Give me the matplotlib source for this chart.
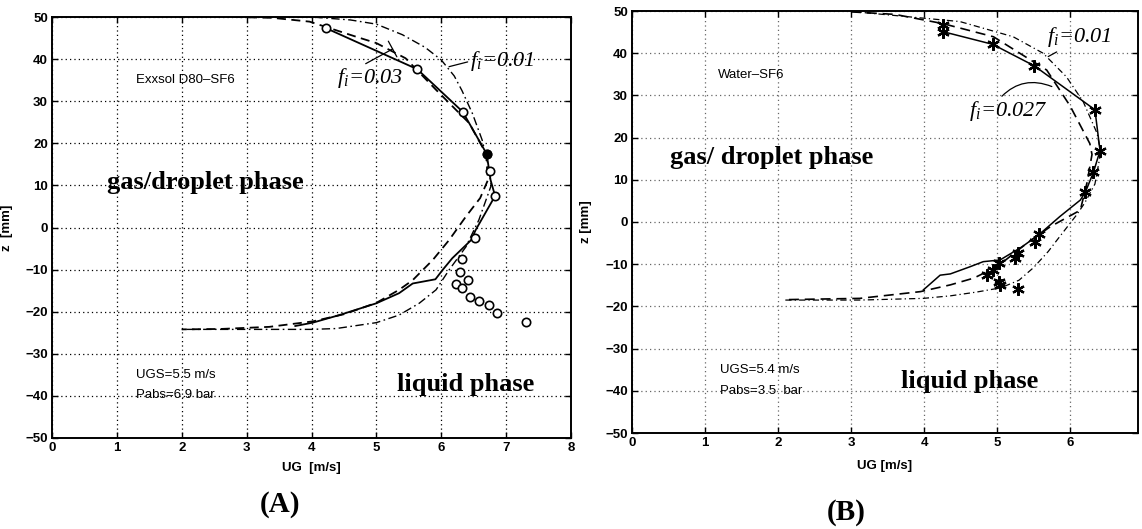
import matplotlib.pyplot as plt

plt.rcParams['mathtext.fontset'] = 'custom'
plt.rcParams['mathtext.it'] = 'Liberation Serif:italic'
plt.rcParams['mathtext.rm'] = 'Liberation Serif:italic'

# ---- Panel A: Exxsol D80-SF6 ----
a_circ_ug = [4.23, 5.63, 6.33, 6.70, 6.75, 6.83, 6.52, 6.32, 6.29, 6.42, 6.22, 6.32, 6.45, 6.58, 6.74, 6.86, 7.31]
a_circ_z = [47.3, 37.6, 27.5, 17.5, 13.5, 7.5, -2.6, -7.6, -10.5, -12.5, -13.5, -14.4, -16.4, -17.4, -18.4, -20.4, -22.4]

a_meas_ug = [4.23, 5.63, 6.33, 6.70, 6.76, 6.83, 6.53, 6.46, 6.17, 6.02, 5.91, 5.56, 5.35, 5.0, 4.43, 4.02, 3.75]
a_meas_z = [47.3, 37.6, 27.5, 17.5, 11.3, 7.5, -0.6, -3.0, -7.3, -10.1, -12.3, -13.3, -15.6, -18.0, -20.8, -22.6, -23.4]

a_f003_ug = [2.8, 3.4, 3.97, 4.69, 5.0, 5.45, 5.92, 6.43, 6.69, 6.72, 6.60, 6.38, 6.12, 5.87, 5.56, 5.35, 5.0, 4.5, 4.02, 3.35, 2.6, 2.0]
a_f003_z = [50.0, 49.8, 48.9, 45.3, 43.8, 40.2, 32.7, 24.8, 17.6, 11.3, 7.0, 2.6, -3.0, -7.7, -12.5, -14.8, -17.9, -20.6, -22.3, -23.6, -24.1, -24.2]

a_f001_ug = [3.0, 4.0, 4.6, 5.0, 5.4, 5.75, 6.0, 6.2, 6.32, 6.48, 6.63, 6.72, 6.77, 6.58, 6.38, 6.12, 5.92, 5.66, 5.35, 5.0, 4.38, 4.0, 2.0]
a_f001_z = [50.0, 50.0, 49.3, 48.3, 45.8, 42.8, 39.8, 36.0, 32.5, 27.1, 20.8, 15.0, 10.0, 1.8, -4.6, -10.1, -14.8, -18.0, -20.8, -22.6, -24.0, -24.2, -24.2]

# ---- Panel B: Water-SF6 ----
b_star_ug = [4.26, 4.26, 4.94, 5.51, 6.34, 6.41, 6.32, 6.21, 5.58, 5.52, 5.29, 5.25, 5.02, 4.95, 4.86, 5.02, 5.04, 5.29]
b_star_z = [46.7, 45.1, 42.1, 37.0, 26.6, 16.9, 11.8, 7.1, -2.9, -4.7, -7.4, -8.6, -9.8, -11.4, -12.6, -14.1, -14.9, -15.9]

b_meas_ug = [4.26, 4.94, 5.51, 6.34, 6.41, 6.32, 6.21, 6.14, 5.86, 5.58, 5.34, 5.04, 4.81, 4.63, 4.36, 4.22, 3.99]
b_meas_z = [45.1, 42.1, 37.0, 26.6, 16.9, 11.8, 7.1, 5.2, 1.3, -2.9, -5.9, -9.0, -9.4, -10.6, -12.3, -12.6, -16.1]

b_f0027_ug = [3.0, 3.6, 4.26, 4.95, 5.68, 6.0, 6.27, 6.30, 6.23, 6.14, 5.73, 5.41, 5.0, 4.68, 4.36, 3.95, 3.12, 2.1]
b_f0027_z = [49.8, 49.2, 47.0, 43.9, 36.0, 27.5, 18.6, 16.0, 9.2, 2.8, -1.1, -5.0, -10.6, -13.3, -14.9, -16.5, -18.1, -18.4]

b_f001_ug = [3.0, 4.49, 5.22, 5.63, 5.95, 6.18, 6.37, 6.42, 6.34, 6.20, 6.09, 5.82, 5.70, 5.50, 5.30, 5.05, 4.72, 4.36, 3.99, 3.12, 2.1]
b_f001_z = [49.9, 47.5, 43.9, 40.0, 34.4, 28.5, 21.0, 16.5, 9.0, 4.5, 1.7, -4.3, -7.0, -10.8, -13.8, -15.6, -16.6, -17.5, -18.1, -18.5, -18.5]

fig = plt.figure(figsize=(11.42, 5.29), dpi=100)
axA = fig.add_axes([52 / 1142, 1 - 438 / 529, 519 / 1142, 421 / 529])
axB = fig.add_axes([632 / 1142, 1 - 433 / 529, 506 / 1142, 422 / 529])

serif = 'Liberation Serif'
sans = 'Liberation Sans'
small = 9.5


def style_axes(ax, xmax, grid_color, ylab_x):
    ax.set_xlim(0, xmax)
    ax.set_ylim(-50, 50)
    ax.set_xticks(range(0, int(xmax) + 1))
    ax.set_yticks(range(-50, 51, 10))
    ax.grid(True, color=grid_color, linestyle=(0, (1, 2.5)), linewidth=0.9)
    ax.tick_params(direction='in', top=True, right=True, length=4, width=1, pad=3)
    for lab in ax.get_xticklabels() + ax.get_yticklabels():
        lab.set_fontfamily(sans)
        lab.set_fontweight('bold')
        lab.set_fontsize(small)
    for sp in ax.spines.values():
        sp.set_linewidth(1.4)
    ax.yaxis.set_label_coords(ylab_x, 0.5)


# Panel A
style_axes(axA, 8, 'black', -0.075)
axA.plot(a_f001_ug, a_f001_z, color='black', linestyle='-.', linewidth=1.0, dashes=(6, 2.5, 1.2, 2.5))
axA.plot(a_f003_ug, a_f003_z, color='black', linestyle='--', linewidth=1.3, dashes=(5, 3))
axA.plot(a_meas_ug, a_meas_z, color='black', linewidth=1.3)
axA.plot(a_circ_ug, a_circ_z, linestyle='none', marker='o', markersize=6,
         markerfacecolor='white', markeredgecolor='black', markeredgewidth=1.2)
axA.plot(a_circ_ug[3], a_circ_z[3], marker='o', markersize=6, color='black')

axA.set_xlabel('UG  [m/s]', family=sans, weight='bold', fontsize=small, labelpad=6)
axA.set_ylabel('z  [mm]', family=sans, weight='bold', fontsize=small)
axA.text(1.3, 35, 'Exxsol D80\u2013SF6', family=sans, fontsize=small, va='center')
axA.text(1.3, -35, 'UGS=5.5 m/s', family=sans, fontsize=small, va='center')
axA.text(1.3, -39.8, 'Pabs=6.9 bar', family=sans, fontsize=small, va='center')
axA.text(0.85, 10.8, 'gas/droplet phase', family=serif, weight='bold', fontsize=19, va='center')
axA.text(5.32, -37.4, 'liquid phase', family=serif, weight='bold', fontsize=19, va='center')
axA.annotate('$f_i$=0.03', xy=(5.25, 42.4), xytext=(4.4, 35.4), family=serif, style='italic',
             fontsize=16, va='center', arrowprops=dict(arrowstyle='-[, widthB=0.4, lengthB=0',
                                                       color='black', lw=0.9, shrinkA=0, shrinkB=0,
                                                       relpos=(0.35, 1.0)))
axA.annotate('$f_i$=0.01', xy=(6.12, 38.2), xytext=(6.45, 39.5), family=serif, style='italic',
             fontsize=16, va='center', arrowprops=dict(arrowstyle='-', color='black', lw=0.9,
                                                       shrinkA=0, shrinkB=0, relpos=(0.0, 0.5)))

# Panel B
style_axes(axB, 6.93, '0.4', -0.08)
axB.plot(b_f001_ug, b_f001_z, color='black', linestyle='-.', linewidth=0.9, dashes=(5, 2.5, 1, 2.5))
axB.plot(b_f0027_ug, b_f0027_z, color='black', linestyle='--', linewidth=1.2, dashes=(6, 3.5))
axB.plot(b_meas_ug, b_meas_z, color='black', linewidth=1.1)
axB.plot(b_star_ug, b_star_z, linestyle='none', marker=(6, 2, 0), markersize=9,
         markeredgewidth=1.6, color='black')

axB.set_xlabel('UG [m/s]', family=sans, weight='bold', fontsize=small, labelpad=8)
axB.set_ylabel('z [mm]', family=sans, weight='bold', fontsize=small)
axB.text(1.18, 34.8, 'Water\u2013SF6', family=sans, fontsize=small, va='center')
axB.text(1.2, -35.1, 'UGS=5.4 m/s', family=sans, fontsize=small, va='center')
axB.text(1.2, -40, 'Pabs=3.5  bar', family=sans, fontsize=small, va='center')
axB.text(0.52, 15.4, 'gas/ droplet phase', family=serif, weight='bold', fontsize=19, va='center')
axB.text(3.69, -37.8, 'liquid phase', family=serif, weight='bold', fontsize=19, va='center')
axB.annotate('$f_i$=0.01', xy=(5.70, 39.2), xytext=(5.68, 43.8), family=serif, style='italic',
             fontsize=16, va='center', arrowprops=dict(arrowstyle='-', color='black', lw=0.9,
                                                       shrinkA=0, shrinkB=0, relpos=(0.3, 0.1)))
axB.annotate('$f_i$=0.027', xy=(5.75, 32.1), xytext=(4.62, 26.3), family=serif, style='italic',
             fontsize=16, va='center', arrowprops=dict(arrowstyle='-', color='black', lw=0.9,
                                                       shrinkA=0, shrinkB=0, relpos=(0.38, 1.0),
                                                       connectionstyle='arc3,rad=-0.35'))

fig.text(280 / 1142, 1 - 505 / 529, '(A)', family=serif, weight='bold', fontsize=21, ha='center', va='center')
fig.text(846 / 1142, 1 - 513 / 529, '(B)', family=serif, weight='bold', fontsize=21, ha='center', va='center')

fig.savefig('out.png', dpi=100)
